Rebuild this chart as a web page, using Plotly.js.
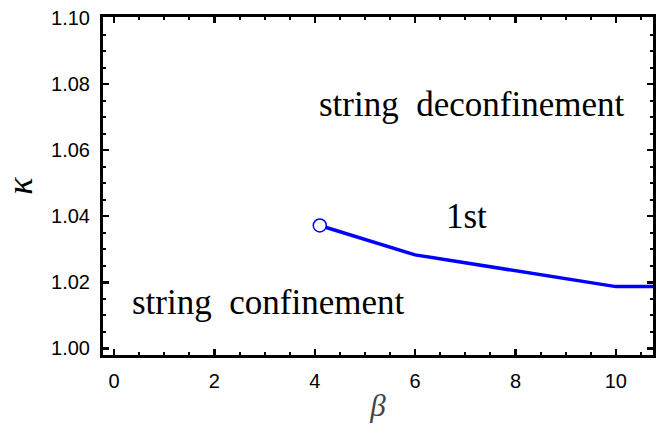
<!DOCTYPE html>
<html>
<head>
<meta charset="utf-8">
<script src="https://cdn.plot.ly/plotly-3.0.1.min.js"></script>
<style>html,body{margin:0;padding:0;background:#fff}#plot{width:672px;height:424px}</style>
</head>
<body>
<div id="plot"></div>
<script>
// Phase boundary (first-order line)
const beta = [4.1, 6.0, 10.0, 11.0];
const kappa = [1.0372, 1.0283, 1.0187, 1.0187];
// End point of the first-order line
const endBeta = [4.1];
const endKappa = [1.0372];
// Region labels
const labelText = ["string  deconfinement", "string  confinement", "1st"];
const labelBeta = [7.13, 3.07, 7.03];
const labelKappa = [1.0738, 1.014, 1.0399];

const xTicks = [0, 2, 4, 6, 8, 10];
const yTicks = [1.00, 1.02, 1.04, 1.06, 1.08, 1.10];

const traces = [
  {x: beta, y: kappa, mode: 'lines', line: {color: '#0000ff', width: 3.5}, hoverinfo: 'skip'},
  {x: endBeta, y: endKappa, mode: 'markers', marker: {symbol: 'circle', size: 13, color: '#ffffff', line: {color: '#0000ff', width: 1.5}}, cliponaxis: false}
];

const annotations = labelText.map((t, i) => ({
  x: labelBeta[i], y: labelKappa[i], xref: 'x', yref: 'y', text: t, showarrow: false,
  font: {family: 'Liberation Serif, DejaVu Serif, serif', size: 35, color: '#000'},
  xanchor: 'center', yanchor: 'middle'
}));

const axisCommon = {
  showgrid: false, zeroline: false, showline: true, linecolor: '#000', linewidth: 3,
  mirror: 'allticks', ticks: 'inside', ticklen: 6, tickwidth: 2.5, tickcolor: '#000',
  tickfont: {family: 'Liberation Sans, Arial, sans-serif', size: 20, color: '#000'}
};

const layout = {
  width: 672, height: 424,
  margin: {l: 103, r: 19, t: 17, b: 69},
  paper_bgcolor: '#fff', plot_bgcolor: '#fff',
  showlegend: false,
  xaxis: Object.assign({}, axisCommon, {
    range: [-0.22, 10.74], tickvals: xTicks, ticktext: xTicks.map(String),
    ticklabelstandoff: 6,
    minor: {dtick: 0.5, ticks: 'inside', ticklen: 3, tickwidth: 2, tickcolor: '#000'},
    title: {text: 'β', font: {family: 'Liberation Serif, DejaVu Serif, serif', size: 31, color: '#444', style: 'italic'}, standoff: 4}
  }),
  yaxis: Object.assign({}, axisCommon, {
    range: [0.998, 1.1003], tickvals: yTicks, ticktext: yTicks.map(v => v.toFixed(2)),
    ticklabelstandoff: 6,
    minor: {dtick: 0.005, ticks: 'inside', ticklen: 3, tickwidth: 2, tickcolor: '#000'},
    title: {text: 'κ', font: {family: 'Liberation Serif, DejaVu Serif, serif', size: 36, color: '#000', style: 'italic'}, standoff: 10}
  }),
  annotations: annotations
};

Plotly.newPlot('plot', traces, layout, {staticPlot: true, displayModeBar: false});
</script>
</body>
</html>
